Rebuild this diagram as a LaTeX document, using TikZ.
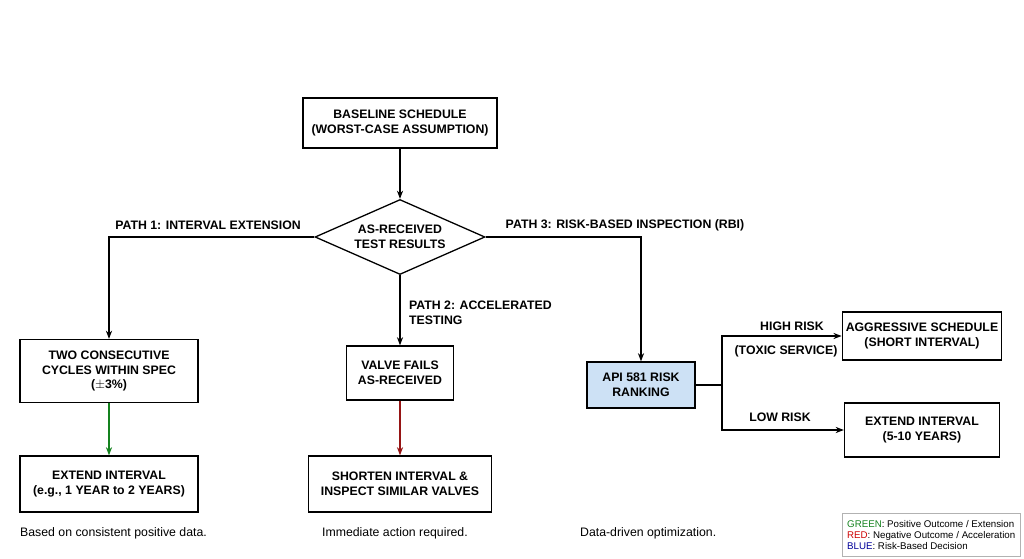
\documentclass[tikz,border=0pt]{standalone}
\usepackage{fontspec}
\setmainfont{Liberation Sans}
\usetikzlibrary{shapes.geometric,arrows.meta}
\definecolor{okgreen}{RGB}{20,130,30}
\definecolor{badred}{RGB}{150,20,20}
\definecolor{rbiblue}{RGB}{205,225,245}
\tikzset{
  box/.style={draw,line width=1.1pt,align=center,font=\fontsize{10.5}{12.5}\selectfont\bfseries,inner sep=3pt},
  lbl/.style={font=\fontsize{10.5}{12.5}\selectfont\bfseries,align=left},
  note/.style={font=\fontsize{10.5}{12}\selectfont,anchor=west},
  arr/.style={line width=1.1pt,-{Stealth[length=7pt]}}
}
\begin{document}
\begin{tikzpicture}[x=0.03cm,y=-0.03cm]
    \useasboundingbox (0,0) rectangle (1024,559);
    \node[box,minimum width=194*0.03cm,minimum height=50*0.03cm] (base) at (400,123) {BASELINE SCHEDULE\\(WORST-CASE ASSUMPTION)};
    \node[box,diamond,aspect=1.9,inner sep=1pt,minimum width=170*0.03cm] (test) at (400,237) {AS-RECEIVED\\TEST RESULTS};
    \node[box,minimum width=178*0.03cm,minimum height=63*0.03cm] (cyc) at (109,371) {TWO CONSECUTIVE\\CYCLES WITHIN SPEC\\($\pm$3\%)};
    \node[box,minimum width=107*0.03cm,minimum height=54*0.03cm] (fail) at (400,373) {VALVE FAILS\\AS-RECEIVED};
    \node[box,fill=rbiblue,minimum width=108*0.03cm,minimum height=46*0.03cm] (api) at (641,385) {API 581 RISK\\RANKING};
    \node[box,minimum width=178*0.03cm,minimum height=56*0.03cm] (ext) at (109,484) {EXTEND INTERVAL\\(e.g., 1 YEAR to 2 YEARS)};
    \node[box,minimum width=183*0.03cm,minimum height=56*0.03cm] (short) at (400,484) {SHORTEN INTERVAL \&\\INSPECT SIMILAR VALVES};
    \node[box,minimum width=155*0.03cm,minimum height=48*0.03cm] (aggr) at (922,336) {AGGRESSIVE SCHEDULE\\(SHORT INTERVAL)};
    \node[box,minimum width=155*0.03cm,minimum height=54*0.03cm] (long) at (922,430) {EXTEND INTERVAL\\(5-10 YEARS)};
    \coordinate (split) at (722,385);

    \draw[arr] (base) -- (test);
    \draw[arr] (test.west) -| (cyc.north);
    \draw[arr] (test.east) -| (api.north);
    \draw[arr] (test.south) -- (fail.north);
    \draw[arr,okgreen] (cyc) -- (ext);
    \draw[arr,badred] (fail) -- (short);
    \draw[line width=1.1pt] (api.east) -- (split);
    \draw[arr] (split) |- (aggr.west);
    \draw[arr] (split) |- (long.west);

    \node[lbl] (p1) at (208,225) {PATH 1: INTERVAL EXTENSION};
    \node[lbl] (p3) at (625,225) {PATH 3: RISK-BASED INSPECTION (RBI)};
    \node[lbl,anchor=west] (p2) at (405,313) {PATH 2: ACCELERATED\\TESTING};
    \node[lbl] (hi) at (792,326) {HIGH RISK};
    \node[lbl] (tox) at (786,351) {(TOXIC SERVICE)};
    \node[lbl] (lo) at (780,417) {LOW RISK};

    \node[note] (n1) at (16,533) {Based on consistent positive data.};
    \node[note] (n2) at (318,533) {Immediate action required.};
    \node[note] (n3) at (576,533) {Data-driven optimization.};

    \node[draw=gray!60,align=left,anchor=north west,font=\fontsize{8.3}{9.5}\selectfont,inner sep=3pt,minimum width=178*0.03cm,minimum height=43*0.03cm] (legend) at (842,513)
      {\textcolor{okgreen}{GREEN}: Positive Outcome / Extension\\
       \textcolor{red!80!black}{RED}: Negative Outcome / Acceleration\\
       \textcolor{blue!60!black}{BLUE}: Risk-Based Decision};
\end{tikzpicture}
\end{document}
